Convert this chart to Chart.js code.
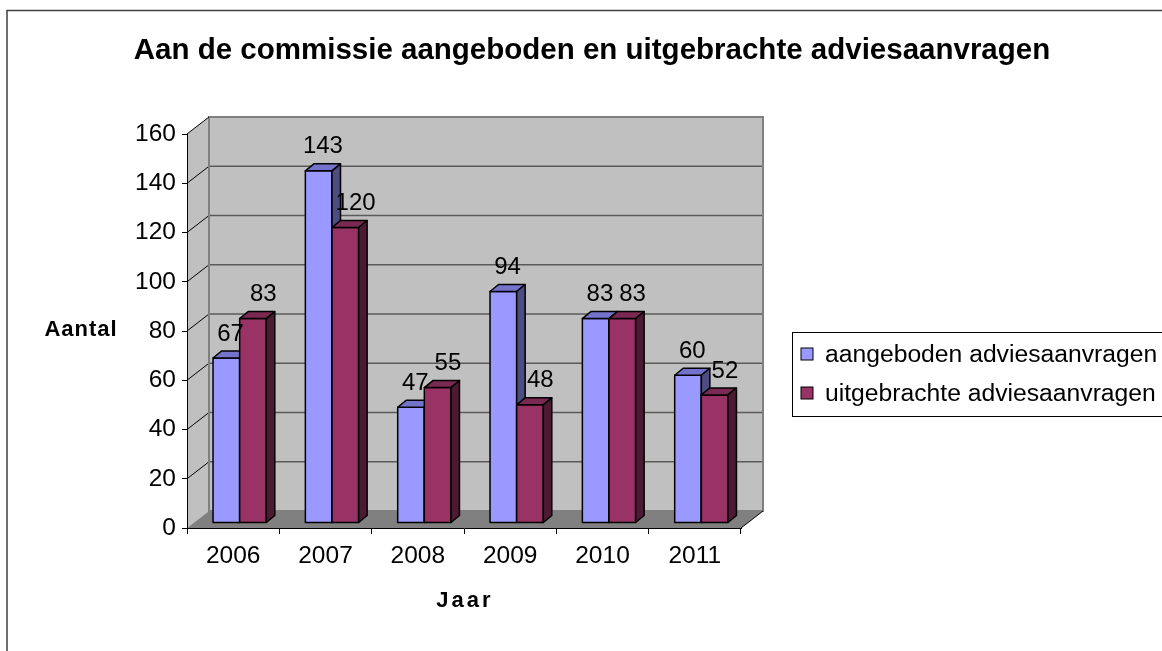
<!DOCTYPE html>
<html>
<head>
<meta charset="utf-8">
<script src="https://cdn.jsdelivr.net/npm/chart.js@4.4.0/dist/chart.umd.min.js"></script>
<style>
  html, body { margin: 0; padding: 0; background: #fff; }
  #wrap { width: 1162px; height: 651px; }
</style>
</head>
<body>
<div id="wrap"><canvas id="chart" width="1162" height="651"></canvas></div>
<script>
// data
const years = ['2006', '2007', '2008', '2009', '2010', '2011'];
const aangeboden = [67, 143, 47, 94, 83, 60];
const uitgebracht = [83, 120, 55, 48, 83, 52];
const seriesNames = ['aangeboden adviesaanvragen', 'uitgebrachte adviesaanvragen'];
const yMax = 160;
const yStep = 20;

const titleText = 'Aan de commissie aangeboden en uitgebrachte adviesaanvragen';
const yTitle = 'Aantal';
const xTitle = 'Jaar';

// look
const colors = {
    front: ['#9999ff', '#993366'],
    top: ['#7373cc', '#7a2952'],
    side: ['#4d4d80', '#4d1a33'],
    wall: '#c0c0c0',
    wallEdge: '#808080',
    grid: '#5a5a5a',
    floor: '#808080'
};
const FONT = '"Liberation Sans", Arial, sans-serif';
const depth = { dx: 22, dy: 17 };      // wall depth (oblique)
const barShift = { dx: 6.5, dy: -5 };  // bar front face inside depth
const barDepth = { dx: 8.5, dy: 7 };   // bar own thickness
const labelNudgeX = [0, 6];            // excel pushes the back series labels a bit right

const threeD = {
    id: 'threeD',
    beforeDraw(chart) {
        const ctx = chart.ctx;
        const ca = chart.chartArea;
        const ys = chart.scales.y;
        const y0 = ys.getPixelForValue(0);
        const yT = ys.getPixelForValue(yMax);
        const L = ca.left, R = ca.right;

        ctx.save();
        ctx.fillStyle = '#fff';
        ctx.fillRect(0, 0, chart.width, chart.height);

        // outer chart frame
        ctx.strokeStyle = '#404040';
        ctx.lineWidth = 1.5;
        ctx.strokeRect(7, 10.5, chart.width + 20, chart.height + 20);

        // back wall
        ctx.fillStyle = colors.wall;
        ctx.fillRect(L + depth.dx, yT - depth.dy, R - L, y0 - yT);
        // left wall
        ctx.beginPath();
        ctx.moveTo(L, yT);
        ctx.lineTo(L + depth.dx, yT - depth.dy);
        ctx.lineTo(L + depth.dx, y0 - depth.dy);
        ctx.lineTo(L, y0);
        ctx.closePath();
        ctx.fill();

        // gridlines on the back wall + diagonals on the side wall
        for (let v = yStep; v < yMax; v += yStep) {
            const y = ys.getPixelForValue(v);
            ctx.strokeStyle = colors.grid;
            ctx.lineWidth = 1.5;
            ctx.beginPath();
            ctx.moveTo(L + depth.dx, y - depth.dy);
            ctx.lineTo(R + depth.dx, y - depth.dy);
            ctx.stroke();
            ctx.strokeStyle = '#000';
            ctx.lineWidth = 1;
            ctx.beginPath();
            ctx.moveTo(L, y);
            ctx.lineTo(L + depth.dx, y - depth.dy);
            ctx.stroke();
        }
        ctx.strokeStyle = colors.wallEdge;
        ctx.lineWidth = 2;
        ctx.strokeRect(L + depth.dx, yT - depth.dy, R - L, y0 - yT);
        ctx.strokeStyle = '#808080';
        ctx.lineWidth = 1.5;
        ctx.beginPath();
        ctx.moveTo(L + depth.dx, yT - depth.dy);
        ctx.lineTo(L + depth.dx, y0 - depth.dy);
        ctx.stroke();

        // floor
        ctx.fillStyle = colors.floor;
        ctx.beginPath();
        ctx.moveTo(L, y0);
        ctx.lineTo(R, y0);
        ctx.lineTo(R + depth.dx, y0 - depth.dy);
        ctx.lineTo(L + depth.dx, y0 - depth.dy);
        ctx.closePath();
        ctx.fill();

        ctx.strokeStyle = '#000';
        ctx.lineWidth = 1;
        ctx.beginPath();
        ctx.moveTo(R, y0);
        ctx.lineTo(R + depth.dx, y0 - depth.dy);
        ctx.moveTo(L, yT);
        ctx.lineTo(L + depth.dx, yT - depth.dy);
        ctx.stroke();
        ctx.restore();
    },
    beforeDatasetDraw() {
        // bars are drawn by hand below, in front-to-back order
        return false;
    },
    afterDatasetsDraw(chart) {
        const ctx = chart.ctx;
        ctx.save();
        ctx.lineWidth = 1.5;
        ctx.strokeStyle = '#000';
        ctx.lineJoin = 'round';
        const metas = [chart.getDatasetMeta(0), chart.getDatasetMeta(1)];
        for (let i = 0; i < years.length; i++) {
            metas.forEach((meta, d) => {
                const el = meta.data[i];
                const x1 = el.x - el.width / 2 + barShift.dx;
                const x2 = el.x + el.width / 2 + barShift.dx;
                const yt = el.y + barShift.dy;
                const yb = el.base + barShift.dy;
                // front
                ctx.fillStyle = colors.front[d];
                ctx.fillRect(x1, yt, x2 - x1, yb - yt);
                ctx.strokeRect(x1, yt, x2 - x1, yb - yt);
                // top
                ctx.fillStyle = colors.top[d];
                ctx.beginPath();
                ctx.moveTo(x1, yt);
                ctx.lineTo(x1 + barDepth.dx, yt - barDepth.dy);
                ctx.lineTo(x2 + barDepth.dx, yt - barDepth.dy);
                ctx.lineTo(x2, yt);
                ctx.closePath();
                ctx.fill();
                ctx.stroke();
                // side
                ctx.fillStyle = colors.side[d];
                ctx.beginPath();
                ctx.moveTo(x2, yt);
                ctx.lineTo(x2 + barDepth.dx, yt - barDepth.dy);
                ctx.lineTo(x2 + barDepth.dx, yb - barDepth.dy);
                ctx.lineTo(x2, yb);
                ctx.closePath();
                ctx.fill();
                ctx.stroke();
            });
        }

        // value labels
        ctx.fillStyle = '#000';
        ctx.font = '24px ' + FONT;
        ctx.textAlign = 'center';
        ctx.textBaseline = 'middle';
        metas.forEach((meta, d) => {
            const vals = chart.data.datasets[d].data;
            meta.data.forEach((el, i) => {
                const lx = el.x + barShift.dx + barDepth.dx / 2 + labelNudgeX[d];
                ctx.fillText(String(vals[i]), lx, el.y + barShift.dy - 24);
            });
        });
        ctx.restore();
    },
    afterDraw(chart) {
        const ctx = chart.ctx;
        ctx.save();
        ctx.fillStyle = '#000';
        ctx.textAlign = 'center';
        ctx.textBaseline = 'middle';

        ctx.font = 'bold 29.5px ' + FONT;
        ctx.fillText(titleText, 592, 51);

        ctx.font = 'bold 22px ' + FONT;
        ctx.letterSpacing = '1px';
        ctx.fillText(yTitle, 81, 330);
        ctx.letterSpacing = '3px';
        ctx.fillText(xTitle, 465, 601);
        ctx.letterSpacing = '0px';

        // legend
        ctx.strokeStyle = '#000';
        ctx.lineWidth = 1;
        ctx.strokeRect(792.5, 332.5, 400, 84);
        ctx.textAlign = 'left';
        ctx.font = '24.7px ' + FONT;
        seriesNames.forEach((name, d) => {
            const cy = 354 + d * 39;
            ctx.fillStyle = colors.front[d];
            ctx.fillRect(801, cy - 6, 12, 12);
            ctx.strokeRect(801, cy - 6, 12, 12);
            ctx.fillStyle = '#000';
            ctx.fillText(name, 825, cy + 1);
        });
        ctx.restore();
    }
};

const chart = new Chart(document.getElementById('chart'), {
    type: 'bar',
    data: {
        labels: years,
        datasets: [
            { label: seriesNames[0], data: aangeboden, backgroundColor: colors.front[0] },
            { label: seriesNames[1], data: uitgebracht, backgroundColor: colors.front[1] }
        ]
    },
    options: {
        responsive: false,
        animation: false,
        devicePixelRatio: 1,
        categoryPercentage: 0.577,
        barPercentage: 1,
        layout: { padding: { left: 100, top: 134, right: 421, bottom: 63 } },
        plugins: {
            legend: { display: false },
            title: { display: false },
            tooltip: { enabled: false }
        },
        scales: {
            x: {
                grid: { drawOnChartArea: false, color: '#000', tickLength: 6, offset: true },
                border: { color: '#000', width: 1 },
                ticks: { color: '#000', font: { family: FONT, size: 24.5 }, padding: 8 },
                afterFit(scale) { scale.height = 60; }
            },
            y: {
                min: 0,
                max: yMax,
                grid: { drawOnChartArea: false, color: '#000', tickLength: 5 },
                border: { color: '#000', width: 1 },
                ticks: { stepSize: yStep, color: '#000', font: { family: FONT, size: 24.5 }, padding: 6 },
                afterFit(scale) { scale.width = 87; }
            }
        }
    },
    plugins: [threeD]
});
</script>
</body>
</html>
